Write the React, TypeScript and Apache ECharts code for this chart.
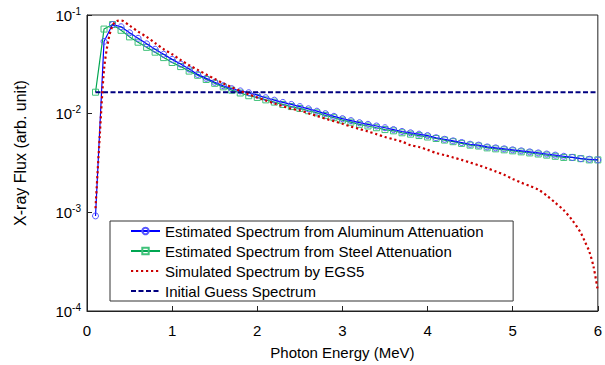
import React, { useEffect, useRef } from "react";
import * as echarts from "echarts";

const energy = [0.1,0.2,0.3,0.4,0.5,0.6,0.7,0.8,0.9,1.0,1.1,1.2,1.3,1.4,1.5,1.6,1.7,1.8,1.9,2.0,2.1,2.2,2.3,2.4,2.5,2.6,2.7,2.8,2.9,3.0,3.1,3.2,3.3,3.4,3.5,3.6,3.7,3.8,3.9,4.0,4.1,4.2,4.3,4.4,4.5,4.6,4.7,4.8,4.9,5.0,5.1,5.2,5.3,5.4,5.5,5.6,5.7,5.8,5.9,6.0];

const aluminum = [0.00092,0.054,0.080,0.076,0.066,0.058,0.051,0.045,0.040,0.0355,0.0318,0.0283,0.0250,0.0228,0.0208,0.0192,0.0179,0.0170,0.0163,0.0154,0.0145,0.0137,0.0130,0.0124,0.0118,0.0112,0.0106,0.0100,0.0094,0.0089,0.0085,0.0081,0.0078,0.0075,0.0072,0.0069,0.0066,0.0064,0.0062,0.0060,0.0057,0.0055,0.0053,0.0051,0.0049,0.0048,0.0046,0.0045,0.0044,0.0043,0.0042,0.0041,0.0040,0.0039,0.0038,0.0037,0.0036,0.0035,0.00345,0.0034];

const steel = [0.0165,0.072,0.080,0.070,0.060,0.053,0.047,0.042,0.037,0.033,0.030,0.027,0.0245,0.0222,0.0203,0.0187,0.0173,0.0162,0.0152,0.0146,0.0138,0.0131,0.0124,0.0118,0.0113,0.0107,0.0102,0.0096,0.0091,0.0086,0.0082,0.0078,0.0075,0.0072,0.0069,0.0067,0.0064,0.0062,0.0060,0.0058,0.0056,0.0054,0.0052,0.0050,0.0048,0.0047,0.0045,0.0044,0.0043,0.0042,0.0041,0.0040,0.0039,0.0038,0.0037,0.0036,0.0036,0.0035,0.0034,0.0034];

const egsEnergy = [0.1,0.15,0.2,0.25,0.3,0.35,0.4,0.5,0.6,0.7,0.8,0.9,1.0,1.1,1.2,1.3,1.4,1.5,1.6,1.7,1.8,1.9,2.0,2.1,2.2,2.3,2.4,2.5,2.6,2.7,2.8,2.9,3.0,3.1,3.2,3.3,3.4,3.5,3.6,3.7,3.8,3.9,4.0,4.1,4.2,4.3,4.4,4.5,4.6,4.7,4.8,4.9,5.0,5.1,5.2,5.3,5.4,5.5,5.6,5.7,5.8,5.85,5.9,5.95,6.0];

const egs5 = [0.0011,0.006,0.028,0.055,0.078,0.087,0.088,0.078,0.068,0.060,0.052,0.045,0.040,0.035,0.031,0.0278,0.025,0.0225,0.0203,0.0185,0.0170,0.0157,0.0146,0.0136,0.0127,0.0119,0.0112,0.0108,0.0101,0.0095,0.0089,0.0084,0.0079,0.0074,0.0070,0.0066,0.0062,0.0058,0.0055,0.0052,0.0048,0.0046,0.0043,0.0040,0.0038,0.0036,0.0034,0.0032,0.0030,0.0028,0.0026,0.0024,0.00218,0.0020,0.00185,0.0017,0.00148,0.00125,0.00105,0.00083,0.00062,0.0005,0.0004,0.00028,0.00016];

const guessEnergy = [0.1, 6.0];
const guessValue = [0.0165, 0.0165];

const xTicks = [0, 1, 2, 3, 4, 5, 6];

const FONT = "Liberation Sans, Arial, sans-serif";
const NAMES = [
  "Estimated Spectrum from Aluminum Attenuation",
  "Estimated Spectrum from Steel Attenuation",
  "Simulated Spectrum by EGS5",
  "Initial Guess Spectrum",
];

function zip(xs: number[], ys: number[]) {
  return xs.map((x, i) => [x, ys[i]]);
}

export default function App() {
  const ref = useRef<HTMLDivElement>(null);
  useEffect(() => {
    const chart = echarts.init(ref.current!, null, { renderer: "svg" });
    const hidden = { color: "rgba(0,0,0,0)", borderColor: "rgba(0,0,0,0)", borderWidth: 0 };
    chart.setOption({
      animation: false,
      backgroundColor: "#fff",
      textStyle: { fontFamily: FONT },
      grid: {
        left: 87,
        right: 7,
        top: 15,
        bottom: 52,
        show: true,
        borderColor: "#222",
        borderWidth: 1,
        backgroundColor: "transparent",
      },
      xAxis: {
        type: "value",
        min: xTicks[0],
        max: xTicks[xTicks.length - 1],
        interval: 1,
        name: "Photon Energy (MeV)",
        nameLocation: "middle",
        nameGap: 34,
        nameTextStyle: { fontSize: 15, color: "#000", fontFamily: FONT },
        axisLine: { lineStyle: { color: "#222", width: 1 } },
        axisTick: { inside: true, length: 5, lineStyle: { color: "#222" } },
        axisLabel: { margin: 12, fontSize: 15, color: "#000", fontFamily: FONT },
        splitLine: { show: false },
      },
      yAxis: {
        type: "log",
        logBase: 10,
        min: 0.0001,
        max: 0.1,
        axisLine: { show: true, lineStyle: { color: "#222", width: 1 } },
        axisTick: { show: true, inside: true, length: 5, lineStyle: { color: "#222" } },
        minorTick: { show: false },
        splitLine: { show: false },
        axisLabel: {
          margin: 6,
          formatter: (v: number) => `{b|10}{e|${Math.round(Math.log10(v))}}`,
          rich: {
            b: { fontSize: 15, color: "#000", fontFamily: FONT },
            e: { fontSize: 10, color: "#000", fontFamily: FONT, padding: [0, 0, 8, 0] },
          },
        },
      },
      legend: {
        orient: "vertical",
        left: 110,
        top: 221,
        padding: [2.5, 28, 2.5, 20],
        itemWidth: 29,
        itemHeight: 8,
        itemGap: 5,
        backgroundColor: "#fff",
        borderColor: "#333",
        borderWidth: 1,
        borderRadius: 0,
        textStyle: { fontSize: 15, color: "#000", fontFamily: FONT },
        data: [
          { name: NAMES[0] },
          { name: NAMES[1] },
          { name: NAMES[2], itemStyle: hidden },
          { name: NAMES[3], itemStyle: hidden },
        ],
      },
      graphic: [
        {
          type: "text",
          x: 20,
          y: 153,
          rotation: Math.PI / 2,
          style: {
            text: "X-ray Flux (arb. unit)",
            fontSize: 16,
            fontFamily: FONT,
            fill: "#000",
            align: "center",
            verticalAlign: "middle",
          },
        },
      ],
      series: [
        {
          name: NAMES[1],
          type: "line",
          data: zip(energy, steel),
          symbol: "rect",
          symbolSize: 6,
          z: 2,
          lineStyle: { color: "#00a651", width: 1.2 },
          itemStyle: { color: "rgba(255,255,255,0)", borderColor: "#40c27a", borderWidth: 1 },
        },
        {
          name: NAMES[0],
          type: "line",
          data: zip(energy, aluminum),
          symbol: "circle",
          symbolSize: 6,
          z: 3,
          lineStyle: { color: "#0000ff", width: 1.2 },
          itemStyle: { color: "rgba(255,255,255,0)", borderColor: "#5555ff", borderWidth: 1 },
        },
        {
          name: NAMES[3],
          type: "line",
          data: zip(guessEnergy, guessValue),
          symbol: "none",
          z: 4,
          lineStyle: { color: "#000080", width: 2, type: [5, 2.5] },
          itemStyle: { color: "#000080" },
        },
        {
          name: NAMES[2],
          type: "line",
          data: zip(egsEnergy, egs5),
          symbol: "none",
          smooth: 0.3,
          z: 5,
          lineStyle: { color: "#cc0000", width: 2.2, type: [2.2, 2.8] },
          itemStyle: { color: "#cc0000" },
        },
      ],
    });
    return () => chart.dispose();
  }, []);
  return <div ref={ref} style={{ width: 605, height: 365, position: "absolute", left: 0, top: 0 }} />;
}
